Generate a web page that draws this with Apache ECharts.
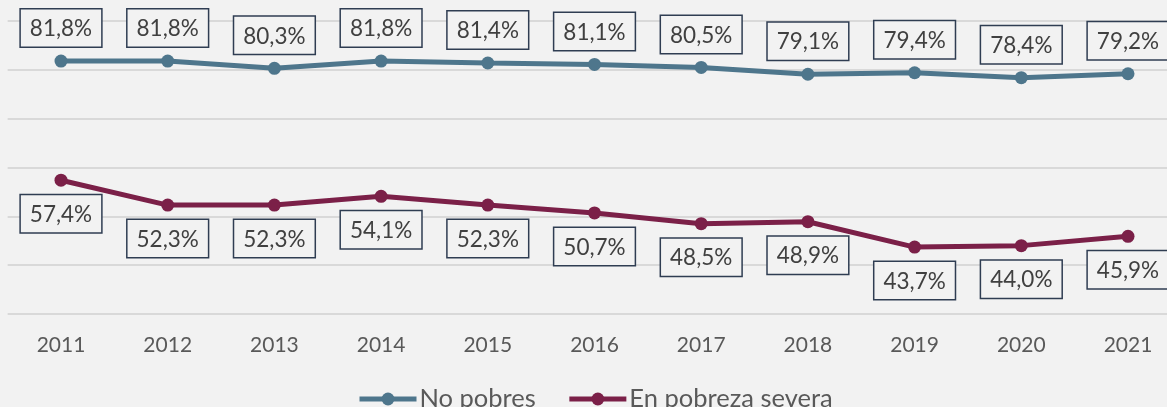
<!DOCTYPE html>
<html>
<head>
<meta charset="utf-8">
<script src="https://cdn.jsdelivr.net/npm/echarts@6/dist/echarts.min.js"></script>
<style>
html,body{margin:0;padding:0;background:#f2f2f2;}
#c{width:1167px;height:407px;}
</style>
</head>
<body>
<div id="c"></div>
<script>
const years = ['2011','2012','2013','2014','2015','2016','2017','2018','2019','2020','2021'];
const noPobres = [81.8, 81.8, 80.3, 81.8, 81.4, 81.1, 80.5, 79.1, 79.4, 78.4, 79.2];
const pobrezaSevera = [57.4, 52.3, 52.3, 54.1, 52.3, 50.7, 48.5, 48.9, 43.7, 44.0, 45.9];
const seriesNames = ['No pobres', 'En pobreza severa'];

const FONT = 'Lato';
const fmt = p => p.value.toFixed(1).replace('.', ',') + '%';
const labelStyle = (pos, dist) => ({
  show: true,
  position: pos,
  distance: dist,
  formatter: fmt,
  fontFamily: FONT,
  fontSize: 22.5,
  color: '#404040',
  borderColor: '#2f3d52',
  borderWidth: 1.5,
  backgroundColor: '#f2f2f2',
  padding: [7, 9, 5, 9],
  lineHeight: 25
});

const chart = echarts.init(document.getElementById('c'));
chart.setOption({
  backgroundColor: '#f2f2f2',
  animation: false,
  grid: { left: 7.65, width: 1173.7, top: 21, bottom: 93, containLabel: false, outerBoundsMode: 'none' },
  xAxis: {
    type: 'category',
    data: years,
    boundaryGap: true,
    axisLine: { show: false },
    axisTick: { show: false },
    axisLabel: { fontFamily: FONT, fontSize: 21, color: '#595959', margin: 21 }
  },
  yAxis: {
    type: 'value',
    min: 30, max: 90, interval: 10,
    axisLabel: { show: false },
    axisLine: { show: false },
    axisTick: { show: false },
    splitLine: { lineStyle: { color: '#d9d9d9', width: 2 } }
  },
  legend: {
    left: 357,
    top: 386,
    padding: 0,
    itemWidth: 57,
    itemHeight: 16,
    itemGap: 31,
    lineStyle: { width: 5 },
    textStyle: { fontFamily: FONT, fontSize: 25.5, color: '#595959', padding: [0, 0, 0, -2] },
    data: seriesNames
  },
  series: [
    {
      name: seriesNames[0],
      type: 'line',
      data: noPobres,
      symbol: 'circle',
      symbolSize: 13,
      color: '#4e768c',
      lineStyle: { width: 5, color: '#4e768c' },
      itemStyle: { color: '#4e768c' },
      label: labelStyle('top', 8)
    },
    {
      name: seriesNames[1],
      type: 'line',
      data: pobrezaSevera,
      symbol: 'circle',
      symbolSize: 13,
      color: '#7b2048',
      lineStyle: { width: 5, color: '#7b2048' },
      itemStyle: { color: '#7b2048' },
      label: labelStyle('bottom', 8.5)
    }
  ]
});
</script>
</body>
</html>
